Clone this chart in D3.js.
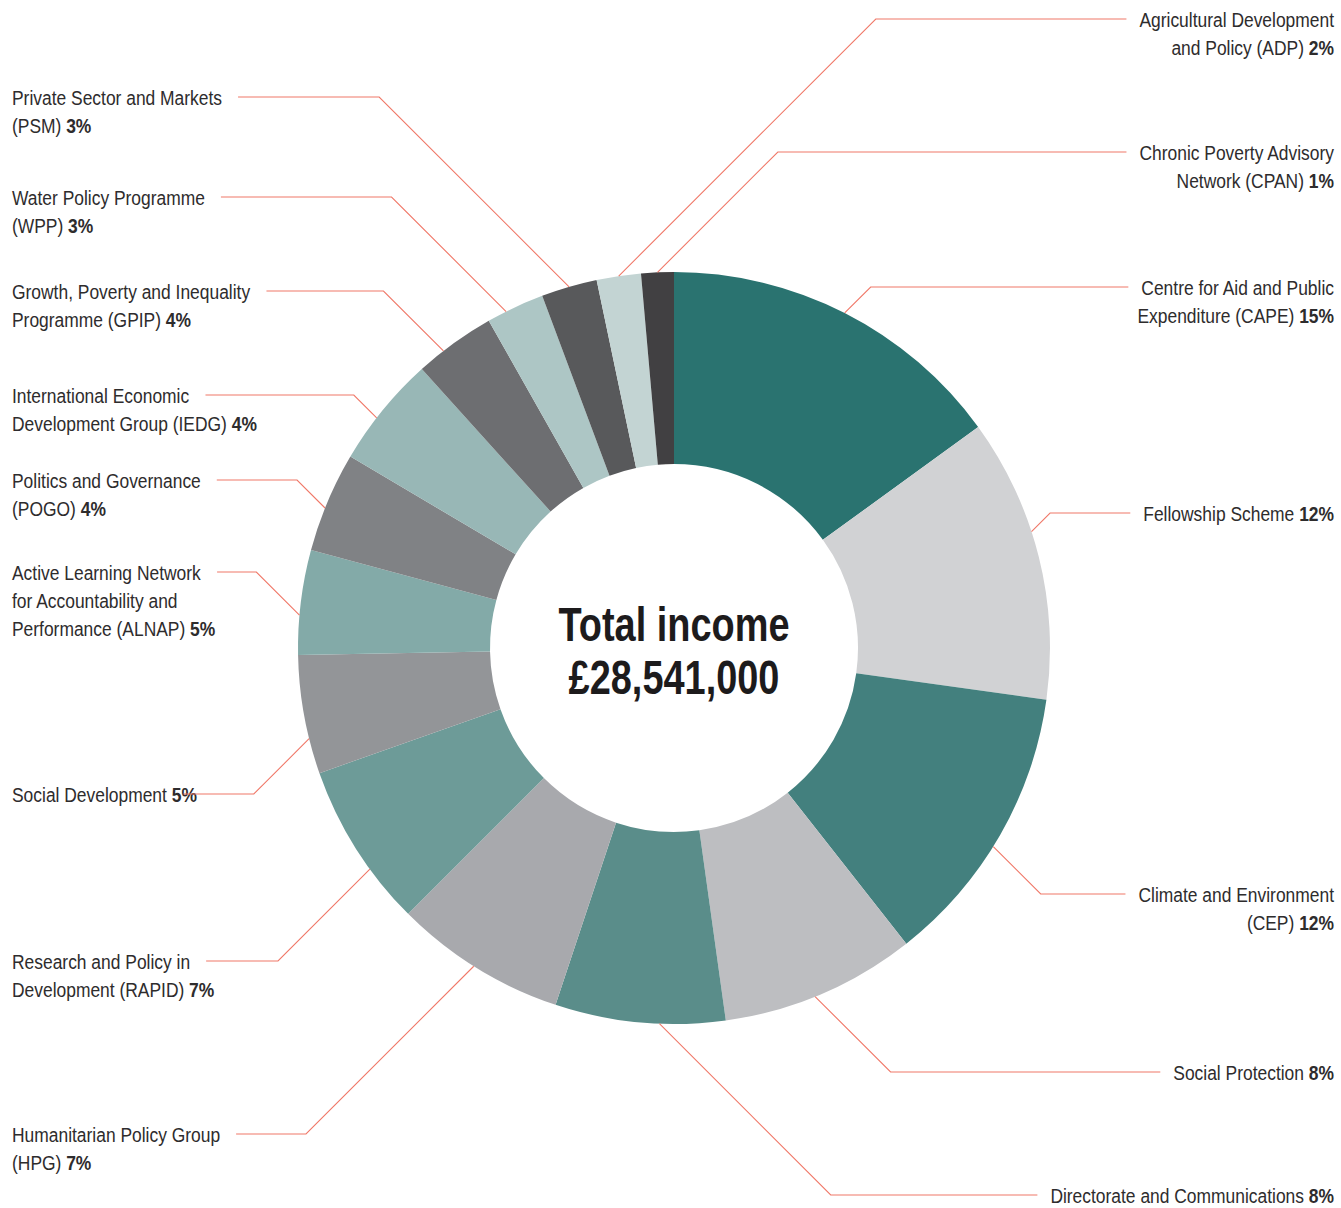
<!DOCTYPE html>
<html lang="en">
  <head>
    <meta charset="utf-8">
    <title>Total income</title>
    <style type="text/css">
      body{
        margin: 0;
        background: #ffffff;
      }
      svg text{
        font-family: "Liberation Sans", Arial, "Helvetica Neue", sans-serif;
      }
      .label{font-size: 21px; fill: #2e2c2d;}
      .label .pct{font-weight: bold;}
      .leader{fill: none; stroke: #f07868; stroke-width: 1.1;}
      .total{font-size: 48px; font-weight: bold; fill: #1d1b1c;}
    </style>
  </head>
  <body>
    <div id="chart"></div>

    <script src="https://d3js.org/d3.v7.min.js"></script>
    <script type="text/javascript">

      // clockwise from 12 o'clock
      const programmes = [
        ['Centre for Aid and Public', 'Expenditure (CAPE)'],
        ['Fellowship Scheme'],
        ['Climate and Environment', '(CEP)'],
        ['Social Protection'],
        ['Directorate and Communications'],
        ['Humanitarian Policy Group', '(HPG)'],
        ['Research and Policy in', 'Development (RAPID)'],
        ['Social Development'],
        ['Active Learning Network', 'for Accountability and', 'Performance (ALNAP)'],
        ['Politics and Governance', '(POGO)'],
        ['International Economic', 'Development Group (IEDG)'],
        ['Growth, Poverty and Inequality', 'Programme (GPIP)'],
        ['Water Policy Programme', '(WPP)'],
        ['Private Sector and Markets', '(PSM)'],
        ['Agricultural Development', 'and Policy (ADP)'],
        ['Chronic Poverty Advisory', 'Network (CPAN)']
      ];
      // share of the ring as drawn
      const shares = [15.0, 12.2, 12.2, 8.4, 7.3, 7.4, 7.1, 5.1, 4.5, 4.3, 4.8, 3.5, 2.5, 2.4, 1.9, 1.4];
      // percentages as printed in the labels
      const pctLabels = ['15%', '12%', '12%', '8%', '8%', '7%', '7%', '5%', '5%', '4%', '4%', '4%', '3%', '3%', '2%', '1%'];
      const colours = ['#2a7370', '#d1d2d4', '#43807e', '#bdbec1', '#5a8d8a', '#a8a9ad', '#6d9b98', '#939598',
                       '#83aaa8', '#808285', '#98b7b6', '#6d6e71', '#adc6c5', '#58595b', '#c3d4d3', '#414042'];
      const totalLines = ['Total income', '£28,541,000'];

      // layout: label side, leader height, and a small turn (deg) of the leader start off the slice middle
      const labelSide = ['R', 'R', 'R', 'R', 'R', 'L', 'L', 'L', 'L', 'L', 'L', 'L', 'L', 'L', 'R', 'R'];
      const leaderY = [287, 513, 894, 1072, 1195, 1134, 961, 794, 572, 480, 395, 291, 197, 97, 19, 152];
      const leaderTurn = [0, -4, 2, 1, -3, 0.5, -3.8, -3.7, -2, -1, -1.5, -2, -1.5, 0, 0, 0];

      const w = 1341;
      const h = 1208;
      const cx = 674, cy = 648;
      const rOuter = 376, rInner = 184;
      const lineH = 28;
      const squeeze = 0.83;   // condensed look for the labels
      const squeezeTotal = 0.79;

      const svg = d3.select('#chart').append('svg')
        .attr('width', w)
        .attr('height', h);

      const pie = d3.pie().sort(null).value(d => d);
      const arcs = pie(shares);
      const arc = d3.arc().innerRadius(rInner).outerRadius(rOuter);

      const ring = svg.append('g').attr('transform', 'translate(' + cx + ',' + cy + ')');

      ring.selectAll('path')
        .data(arcs)
        .enter()
        .append('path')
        .attr('d', arc)
        .attr('fill', (d, i) => colours[i]);

      // centre text
      ring.append('g')
        .attr('transform', 'scale(' + squeezeTotal + ',1)')
        .selectAll('text.total')
        .data(totalLines)
        .enter()
        .append('text')
        .attr('class', 'total')
        .attr('text-anchor', 'middle')
        .attr('x', 0)
        .attr('y', (d, i) => -7 + i * 53)
        .text(d => d);

      // labels
      const labels = svg.append('g');
      const leaders = svg.append('g');

      arcs.forEach(function(a, i){
        const side = labelSide[i];
        const ly = leaderY[i];
        const baseY = ly + 8;
        const lx = side === 'R' ? 1334 : 12;

        const t = labels.append('g')
          .attr('transform', 'translate(' + lx + ',0) scale(' + squeeze + ',1)')
          .append('text')
          .attr('class', 'label')
          .attr('text-anchor', side === 'R' ? 'end' : 'start');

        const lines = programmes[i];
        lines.forEach(function(line, j){
          t.append('tspan')
            .attr('x', 0)
            .attr('y', baseY + j * lineH)
            .text(line);
          if (j === lines.length - 1) {
            t.append('tspan').attr('class', 'pct').text(' ' + pctLabels[i]);
          }
        });

        // leader line: from the outer edge near the slice middle, 45 degrees to the label height
        const mid = (a.startAngle + a.endAngle) / 2 + leaderTurn[i] * Math.PI / 180;
        const sx = cx + rOuter * Math.sin(mid);
        const sy = cy - rOuter * Math.cos(mid);
        const dir = side === 'R' ? 1 : -1;
        const ex = sx + dir * Math.abs(sy - ly);

        const box = t.select('tspan').node().getBBox();
        const endX = side === 'R' ? lx + box.x * squeeze - 13 : lx + (box.x + box.width) * squeeze + 16;

        leaders.append('path')
          .attr('class', 'leader')
          .attr('d', d3.line()([[sx, sy], [ex, ly], [endX, ly]]));
      });

    </script>
  </body>
</html>
